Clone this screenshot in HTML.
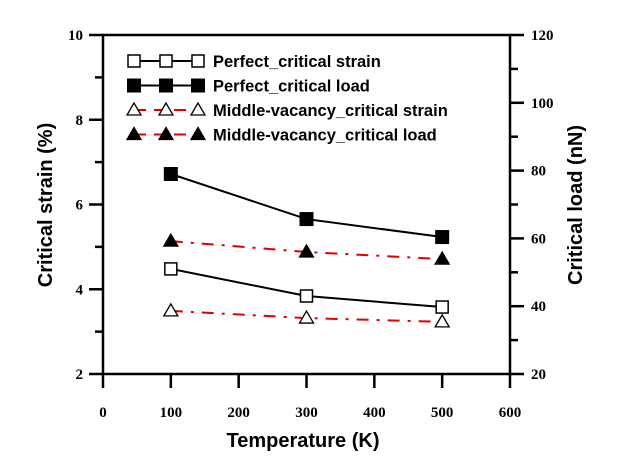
<!DOCTYPE html>
<html><head><meta charset="utf-8"><style>
body{margin:0;background:#fff}
svg{display:block}
.tk{font-family:"Liberation Serif",serif;font-weight:bold;font-size:15px}
.ttl{font-family:"Liberation Sans",sans-serif;font-weight:bold;font-size:20px}
.lg{font-family:"Liberation Sans",sans-serif;font-weight:bold;font-size:16.5px}
</style></head><body>
<svg id="chart" width="618" height="459" viewBox="0 0 618 459">
<g id="axes"></g><g id="series"></g><g id="legend"></g>
</svg>
<script>
const temps=[100,300,500];
const perfectStrain=[4.48,3.84,3.58];
const perfectLoad=[79.0,65.7,60.4];
const mvStrain=[3.49,3.32,3.23];
const mvLoad=[59.2,56.0,53.9];
const xTicks=[0,100,200,300,400,500,600];
const yLeftTicks=[2,4,6,8,10];
const yRightTicks=[20,40,60,80,100,120];
const L=103,R=510,T=35,B=374;
const X=v=>L+(v-0)/600*(R-L);
const YL=v=>B-(v-2)/8*(B-T);
const YR=v=>B-(v-20)/100*(B-T);
const NS="http://www.w3.org/2000/svg";
function mk(tag,attrs,parent,text){const e=document.createElementNS(NS,tag);for(const k in attrs)e.setAttribute(k,attrs[k]);if(text!==undefined)e.textContent=text;parent.appendChild(e);return e;}
const ax=document.getElementById('axes');
let e=mk('rect',{x:L,y:T,width:R-L,height:B-T,fill:'none',stroke:'#000','stroke-width':2.5},ax);


xTicks.forEach(v=>{mk('line',{x1:X(v),x2:X(v),y1:B,y2:B+14,stroke:'#000','stroke-width':2.5},ax);
 e=mk('text',{x:X(v),y:417,'text-anchor':'middle',class:'tk'},ax,v);
 
 });
for(let v=2;v<=10;v++){const maj=v%2===0;mk('line',{x1:L-(maj?14:8),x2:L,y1:YL(v),y2:YL(v),stroke:'#000','stroke-width':2.5},ax);}
yLeftTicks.forEach(v=>{e=mk('text',{x:83,y:YL(v)+5,'text-anchor':'end',class:'tk'},ax,v);
 
 });
for(let v=20;v<=120;v+=10){const maj=v%20===0;mk('line',{x1:R,x2:R+(maj?14:8),y1:YR(v),y2:YR(v),stroke:'#000','stroke-width':2.5},ax);}
yRightTicks.forEach(v=>{e=mk('text',{x:531,y:YR(v)+5,'text-anchor':'start',class:'tk'},ax,v);
 
 });
e=mk('text',{x:303,y:447,'text-anchor':'middle',class:'ttl'},ax,'Temperature (K)');


e=mk('text',{x:0,y:0,'text-anchor':'middle',class:'ttl',transform:'translate(52,205) rotate(-90)'},ax,'Critical strain (%)');


e=mk('text',{x:0,y:0,'text-anchor':'middle',class:'ttl',transform:'translate(582,205) rotate(-90)'},ax,'Critical load (nN)');



function marker(g,type,x,y){
 if(type==='sqo')return mk('rect',{x:x-6,y:y-6,width:12,height:12,fill:'#fff',stroke:'#000','stroke-width':1.5},g);
 if(type==='sqf')return mk('rect',{x:x-7,y:y-7,width:14,height:14,fill:'#000'},g);
 const f=type==='trf'?'#000':'#fff';
 return mk('polygon',{points:`${x},${y-7} ${x-7},${y+5} ${x+7},${y+5}`,fill:f,stroke:'#000','stroke-width':1.3},g);
}
const sg=document.getElementById('series');
const defs=[
 {name:'perfect-critical-strain',vals:perfectStrain,Y:YL,m:'sqo',c:'#000',dash:''},
 {name:'perfect-critical-load',vals:perfectLoad,Y:YR,m:'sqf',c:'#000',dash:''},
 {name:'middle-vacancy-critical-strain',vals:mvStrain,Y:YL,m:'tro',c:'#e00000',dash:'12 8 3 8'},
 {name:'middle-vacancy-critical-load',vals:mvLoad,Y:YR,m:'trf',c:'#e00000',dash:'12 8 3 8'}];
defs.forEach(d=>{
 const g=mk('g',{},sg);
 
 
 const pts=temps.map((t,i)=>X(t)+','+d.Y(d.vals[i])).join(' ');
 mk('polyline',{points:pts,fill:'none',stroke:d.c,'stroke-width':2,'stroke-dasharray':d.dash},g);
 temps.forEach((t,i)=>{const m=marker(g,d.m,X(t),d.Y(d.vals[i]));
  
  });
});
const lg=document.getElementById('legend');
const labels=['Perfect_critical strain','Perfect_critical load','Middle-vacancy_critical strain','Middle-vacancy_critical load'];
defs.forEach((d,i)=>{
 const y=61+i*24.5;
 const g=mk('g',{},lg);
 
 
 mk('line',{x1:134,x2:198,y1:y,y2:y,stroke:d.c,'stroke-width':2,'stroke-dasharray':d.dash?'12 8':''},g);
 [134,166,198].forEach(x=>marker(g,d.m,x,y));
 mk('text',{x:213,y:y+6,class:'lg'},g,labels[i]);
});
</script>
</body></html>
